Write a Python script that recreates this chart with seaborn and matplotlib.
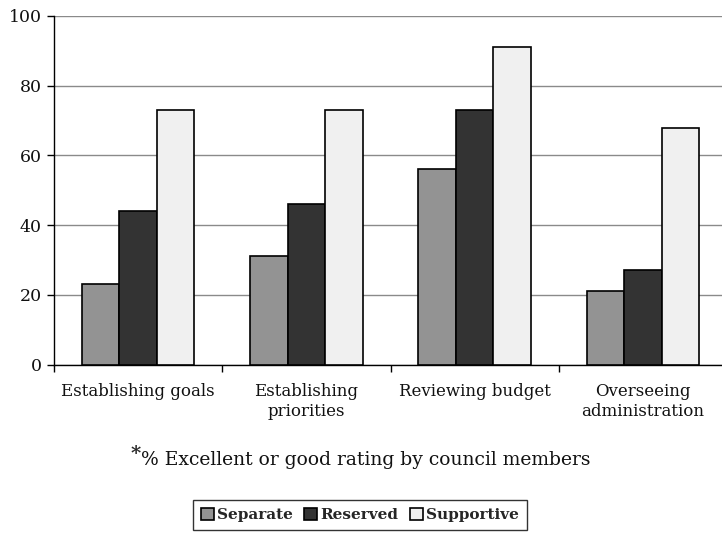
import matplotlib
matplotlib.use("Agg")
import matplotlib.pyplot as plt
import pandas as pd
import seaborn as sns

# Council roles and ratings (% excellent or good) per council type
roles = ["Establishing goals", "Establishing\npriorities",
         "Reviewing budget", "Overseeing\nadministration"]
separate = [23, 31, 56, 21]
reserved = [44, 46, 73, 27]
supportive = [73, 73, 91, 68]
series_names = ["Separate", "Reserved", "Supportive"]
series_colors = ["#939393", "#333333", "#f0f0f0"]
y_ticks = [0, 20, 40, 60, 80, 100]

rows = []
for name, vals in zip(series_names, [separate, reserved, supportive]):
    for role, v in zip(roles, vals):
        rows.append({"role": role, "type": name, "value": v})
df = pd.DataFrame(rows)

sns.set_style("white")
plt.rcParams["font.family"] = ["DejaVu Serif"]

fig = plt.figure(figsize=(7.22, 5.40), dpi=100)
ax = fig.add_axes([54 / 722, 1 - 364.5 / 540, 673 / 722, 348.5 / 540])

sns.barplot(data=df, x="role", y="value", hue="type", order=roles,
            hue_order=series_names, palette=series_colors, width=0.67,
            edgecolor="black", linewidth=1.2, saturation=1, ax=ax, zorder=3)

ax.set_ylim(0, 100)
ax.set_xlim(-0.5, 3.5)
ax.set_yticks(y_ticks)
ax.set_yticklabels([str(t) for t in y_ticks], fontsize=12.5, color="#111111")
ax.yaxis.grid(True, color="#8a8a8a", linewidth=1.0, zorder=0)
ax.set_axisbelow(True)
ax.set_xlabel("")
ax.set_ylabel("")

ax.set_xticks(range(len(roles)))
ax.set_xticklabels(roles, fontsize=12, linespacing=1.25, color="#111111")
ax.set_xticks([i - 0.5 for i in range(len(roles) + 1)], minor=True)
ax.tick_params(axis="x", which="major", length=0, pad=13)
ax.tick_params(axis="x", which="minor", length=5, width=1, color="black",
               direction="out", bottom=True)
ax.tick_params(axis="y", length=5, width=1, color="black", direction="out",
               left=True, pad=4)

for side in ["top", "right"]:
    ax.spines[side].set_visible(False)
for side in ["left", "bottom"]:
    ax.spines[side].set_color("black")
    ax.spines[side].set_linewidth(1.0)

handles, labels = ax.get_legend_handles_labels()
ax.get_legend().remove()
leg = fig.legend(handles, labels, loc="upper center",
                 bbox_to_anchor=(360 / 722, 1 - 500 / 540),
                 ncol=3, frameon=True, fancybox=False, edgecolor="black",
                 prop={"weight": "bold", "size": 11}, handlelength=0.85,
                 handleheight=0.85, handletextpad=0.2, columnspacing=0.75,
                 borderpad=0.5, borderaxespad=0)
leg.get_frame().set_linewidth(1.0)

note = fig.text(366 / 722, 1 - 465 / 540, "% Excellent or good rating by council members",
                ha="center", va="baseline", fontsize=13.5, color="#111111")
ann = ax.annotate("*", xy=(0, 1), xycoords=note, ha="right", va="top",
                  fontsize=14, fontweight="bold", xytext=(0, 4),
                  textcoords="offset points", annotation_clip=False)

fig.savefig("out.png", dpi=100)
